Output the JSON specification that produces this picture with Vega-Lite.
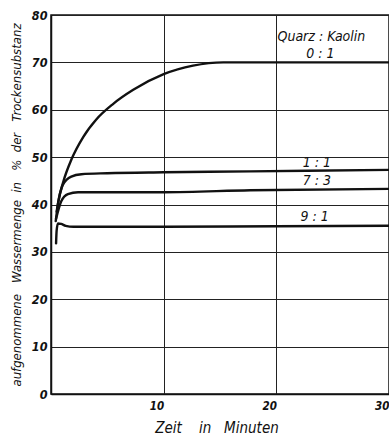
{
  "$schema": "https://vega.github.io/schema/vega-lite/v6.json",
  "autosize": "none",
  "width": 338,
  "height": 379,
  "padding": {"left": 51, "top": 15, "right": 0, "bottom": 41},
  "background": "white",
  "config": {
    "view": {"stroke": "#111", "strokeWidth": 1.5},
    "font": "DejaVu Sans Condensed, Liberation Sans Narrow, sans-serif"
  },
  "datasets": {
    "curves": [
      {"mix": "0:1", "t": 0.42, "w": 36.5},
      {"mix": "0:1", "t": 0.65, "w": 40.6},
      {"mix": "0:1", "t": 1.09, "w": 44.8},
      {"mix": "0:1", "t": 1.83, "w": 49.6},
      {"mix": "0:1", "t": 2.87, "w": 54.3},
      {"mix": "0:1", "t": 4.0, "w": 57.9},
      {"mix": "0:1", "t": 5.5, "w": 61.2},
      {"mix": "0:1", "t": 7.3, "w": 64.2},
      {"mix": "0:1", "t": 10.0, "w": 67.5},
      {"mix": "0:1", "t": 12.6, "w": 69.3},
      {"mix": "0:1", "t": 15.3, "w": 70.0},
      {"mix": "0:1", "t": 20.0, "w": 70.0},
      {"mix": "0:1", "t": 30.0, "w": 70.0},
      {"mix": "1:1", "t": 0.5, "w": 38.5},
      {"mix": "1:1", "t": 0.62, "w": 40.2},
      {"mix": "1:1", "t": 1.06, "w": 44.2},
      {"mix": "1:1", "t": 1.8, "w": 45.9},
      {"mix": "1:1", "t": 2.7, "w": 46.4},
      {"mix": "1:1", "t": 5.0, "w": 46.6},
      {"mix": "1:1", "t": 10.0, "w": 46.8},
      {"mix": "1:1", "t": 17.7, "w": 47.0},
      {"mix": "1:1", "t": 30.0, "w": 47.3},
      {"mix": "7:3", "t": 0.45, "w": 37.0},
      {"mix": "7:3", "t": 0.91, "w": 40.7},
      {"mix": "7:3", "t": 1.5, "w": 42.2},
      {"mix": "7:3", "t": 2.4, "w": 42.6},
      {"mix": "7:3", "t": 10.0, "w": 42.6},
      {"mix": "7:3", "t": 17.7, "w": 43.0},
      {"mix": "7:3", "t": 30.0, "w": 43.3},
      {"mix": "9:1", "t": 0.45, "w": 31.8},
      {"mix": "9:1", "t": 0.5, "w": 34.5},
      {"mix": "9:1", "t": 0.62, "w": 36.0},
      {"mix": "9:1", "t": 0.9, "w": 35.9},
      {"mix": "9:1", "t": 1.3, "w": 35.5},
      {"mix": "9:1", "t": 2.0, "w": 35.3},
      {"mix": "9:1", "t": 10.0, "w": 35.3},
      {"mix": "9:1", "t": 20.0, "w": 35.4},
      {"mix": "9:1", "t": 30.0, "w": 35.5}
    ],
    "labels": [
      {"t": 24.0, "w": 75.3, "label": "Quarz : Kaolin", "bold": false},
      {"t": 23.9, "w": 71.8, "label": "0 : 1", "bold": true},
      {"t": 23.6, "w": 48.7, "label": "1 : 1", "bold": true},
      {"t": 23.6, "w": 44.9, "label": "7 : 3", "bold": true},
      {"t": 23.4, "w": 37.4, "label": "9 : 1", "bold": true}
    ]
  },
  "layer": [
    {
      "data": {"name": "curves"},
      "mark": {"type": "line", "interpolate": "monotone", "strokeWidth": 2.4, "color": "#111", "strokeCap": "round", "clip": true},
      "encoding": {
        "x": {
          "field": "t", "type": "quantitative",
          "scale": {"domain": [0, 30], "nice": false, "zero": false},
          "axis": {
            "values": [10, 20, 30],
            "grid": true, "gridColor": "#222", "gridWidth": 1,
            "domainColor": "#111", "domainWidth": 1.5,
            "ticks": false,
            "labelPadding": 6, "labelAlign": "right", "labelFlush": false,
            "labelFontSize": 11.5, "labelFontStyle": "italic", "labelFontWeight": "bold", "labelColor": "#111",
            "title": "Zeit\u00a0\u00a0\u00a0\u00a0in\u00a0\u00a0\u00a0Minuten",
            "titleFontSize": 15, "titleFontStyle": "italic", "titleFontWeight": "normal", "titleColor": "#111",
            "titleX": 165.5, "titleY": 33, "titleAlign": "center", "titleBaseline": "middle"
          }
        },
        "y": {
          "field": "w", "type": "quantitative",
          "scale": {"domain": [0, 80], "nice": false},
          "axis": {
            "values": [0, 10, 20, 30, 40, 50, 60, 70, 80],
            "grid": true, "gridColor": "#222", "gridWidth": 1,
            "domainColor": "#111", "domainWidth": 1.5,
            "ticks": false,
            "labelPadding": 4, "labelFlush": false,
            "labelFontSize": 12.5, "labelFontStyle": "italic", "labelFontWeight": "bold", "labelColor": "#111",
            "title": "aufgenommene\u00a0\u00a0\u00a0Wassermenge\u00a0\u00a0in\u00a0\u00a0\u00a0%\u00a0\u00a0der\u00a0\u00a0\u00a0Trockensubstanz",
            "titleFontSize": 13, "titleFontStyle": "italic", "titleFontWeight": "normal", "titleColor": "#111",
            "titleX": -35, "titleY": 189.5, "titleAngle": -90, "titleAlign": "center", "titleBaseline": "middle"
          }
        },
        "detail": {"field": "mix"}
      }
    },
    {
      "data": {"name": "labels"},
      "mark": {"type": "text", "fontSize": 14, "fontStyle": "italic", "color": "#111", "baseline": "middle", "align": "center"},
      "encoding": {
        "x": {"field": "t", "type": "quantitative"},
        "y": {"field": "w", "type": "quantitative"},
        "text": {"field": "label"},
        "fontWeight": {"field": "bold", "type": "nominal", "scale": {"domain": [true, false], "range": ["bold", "normal"]}, "legend": null}
      }
    }
  ]
}
